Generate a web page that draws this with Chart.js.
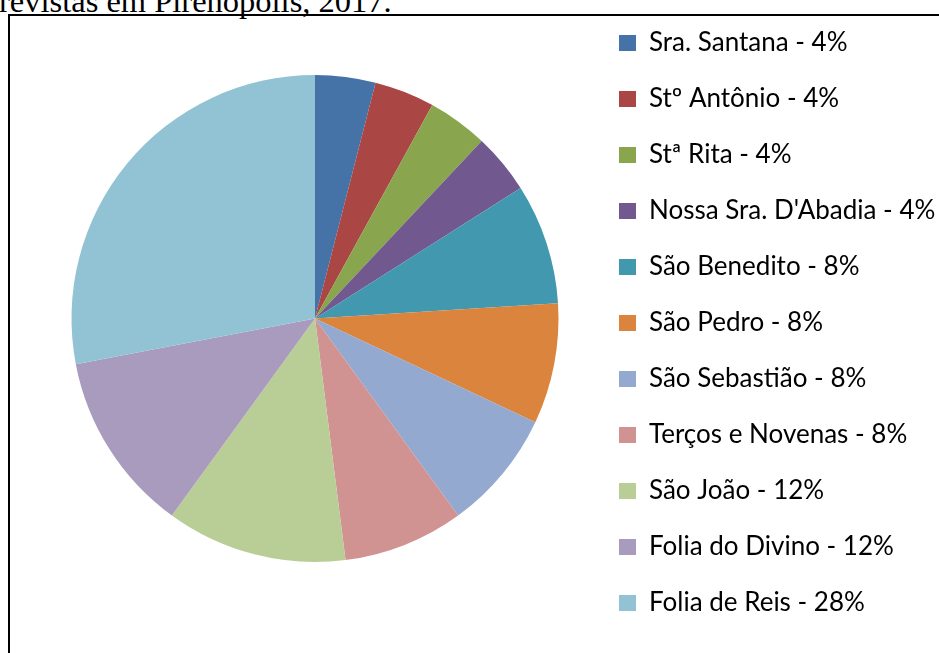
<!DOCTYPE html>
<html>
<head>
<meta charset="utf-8">
<script src="https://cdn.jsdelivr.net/npm/chart.js@4/dist/chart.umd.min.js"></script>
<style>
  html, body { margin: 0; padding: 0; background: #fff; overflow: hidden; width: 939px; height: 653px; }
  #caption {
    position: absolute; left: -1px; top: -15px; white-space: nowrap;
    font-family: "Liberation Serif", "Times New Roman", serif; font-size: 32.5px; line-height: 33px; color: #000;
  }
  #frame {
    position: absolute; left: 8px; top: 14px; width: 1000px; height: 1000px;
    border: 2px solid #000;
  }
  #chart-pie { position: absolute; left: 0; top: 0; }
</style>
</head>
<body>
<div id="caption">revistas em Pirenópolis, 2017.</div>
<div id="frame"></div>
<canvas id="chart-pie" width="939" height="653"></canvas>
<script>
let categories = [
  "Sra. Santana",
  "Stº Antônio",
  "Stª Rita",
  "Nossa Sra. D'Abadia",
  "São Benedito",
  "São Pedro",
  "São Sebastião",
  "Terços e Novenas",
  "São João",
  "Folia do Divino",
  "Folia de Reis"
];
let percents = [4, 4, 4, 4, 8, 8, 8, 8, 12, 12, 28];
let colors = [
  "#4572A7", "#AA4643", "#89A54E", "#71588F", "#4198AF", "#DB843D",
  "#93A9CF", "#D19392", "#B9CD96", "#A99BBD", "#92C3D4"
];

let labels = categories.map((name, i) => name + " - " + percents[i] + "%");

Chart.defaults.color = "#000";

// keep legend at a fixed width so the pie sits where it should
let legendWidth = {
  id: "legendWidth",
  beforeUpdate(chart) {
    let legend = chart.legend;
    if (!legend || legend._fixed) return;
    let fit = legend.fit;
    legend.fit = function() {
      fit.call(this);
      this.width = 350;
    };
    legend._fixed = true;
  }
};

new Chart(document.getElementById("chart-pie").getContext("2d"), {
  type: "pie",
  data: {
    labels: labels,
    datasets: [
      {
        data: percents,
        backgroundColor: colors,
        borderWidth: 0,
        radius: 243.5
      }
    ]
  },
  options: {
    responsive: false,
    animation: false,
    events: [],
    layout: { padding: { left: 41, right: 0, top: 0, bottom: 0 } },
    plugins: {
      title: {
        display: true,
        text: "",
        position: "bottom",
        padding: 0,
        font: { size: 16, lineHeight: 1 }
      },
      tooltip: { enabled: false },
      legend: {
        position: "right",
        align: "start",
        labels: {
          boxWidth: 17,
          boxHeight: 16,
          padding: 30,
          color: "#000",
          font: { family: "Lato", size: 26 }
        }
      }
    }
  },
  plugins: [legendWidth]
});
</script>
</body>
</html>
